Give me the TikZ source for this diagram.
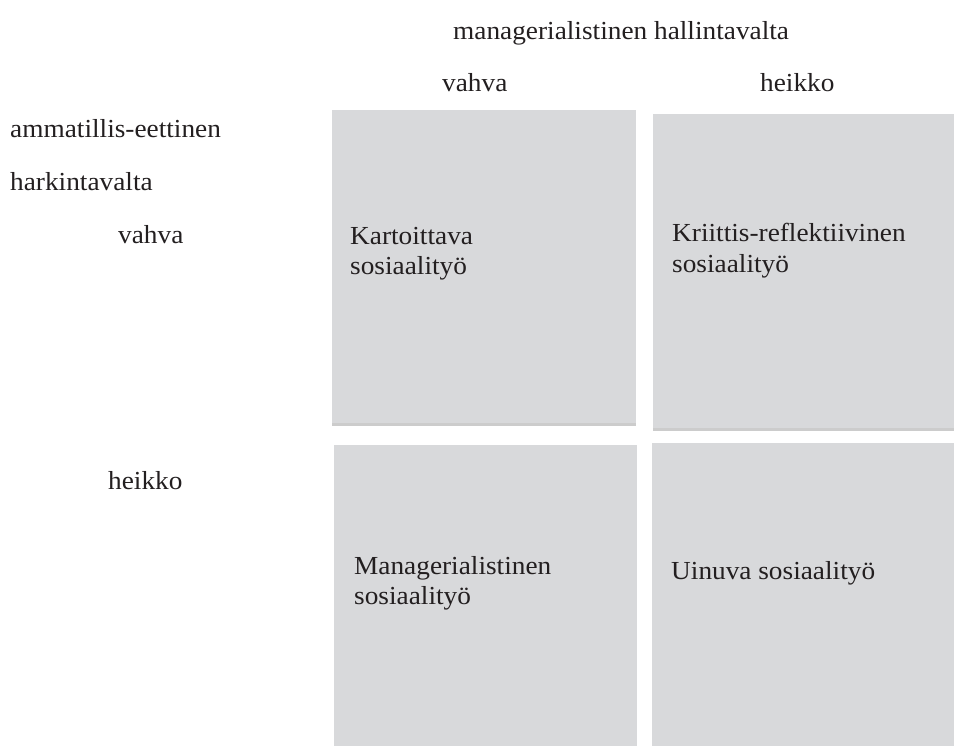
\documentclass[tikz,border=0pt]{standalone}
\usepackage{fontspec}
\setmainfont[FakeStretch=1.05]{Liberation Serif}
\usetikzlibrary{shadows}
\definecolor{boxgray}{HTML}{D8D9DB}
\definecolor{txt}{HTML}{231F20}
\tikzset{
  quad/.style={rectangle, fill=boxgray, draw=none, anchor=north west, inner sep=0pt,
    drop shadow={shadow xshift=0pt, shadow yshift=-2.5pt, fill=black, opacity=0.2}},
  lbl/.style={anchor=base west, inner sep=0pt, text=txt, font=\fontsize{26}{30}\selectfont}
}
\begin{document}
\begin{tikzpicture}[x=1pt,y=-1pt]
\useasboundingbox (0,0) rectangle (954,746);
% boxes
\node[quad, minimum width=304pt, minimum height=313pt] (tl) at (332,110) {};
\node[quad, minimum width=301pt, minimum height=314pt] (tr) at (653,114) {};
\node[quad, minimum width=303pt, minimum height=320pt] (bl) at (334,445) {};
\node[quad, minimum width=302pt, minimum height=320pt] (br) at (652,443) {};
% headings
\node[lbl] (title) at (453,40) {managerialistinen hallintavalta};
\node[lbl] (colA) at (442,92) {vahva};
\node[lbl] (colB) at (760,92) {heikko};
\node[lbl] (rowT1) at (10,138) {ammatillis-eettinen};
\node[lbl] (rowT2) at (10,191) {harkintavalta};
\node[lbl] (rowA) at (118,244) {vahva};
\node[lbl] (rowB) at (108,489) {heikko};
% box texts
\node[lbl] (tla) at (350,245) {Kartoittava};
\node[lbl] (tlb) at (350,275) {sosiaalityö};
\node[lbl] (tra) at (672,242) {Kriittis-reflektiivinen};
\node[lbl] (trb) at (672,273) {sosiaalityö};
\node[lbl] (bla) at (354,574) {Managerialistinen};
\node[lbl] (blb) at (354,604) {sosiaalityö};
\node[lbl] (bra) at (671,579) {Uinuva sosiaalityö};
\end{tikzpicture}
\end{document}
